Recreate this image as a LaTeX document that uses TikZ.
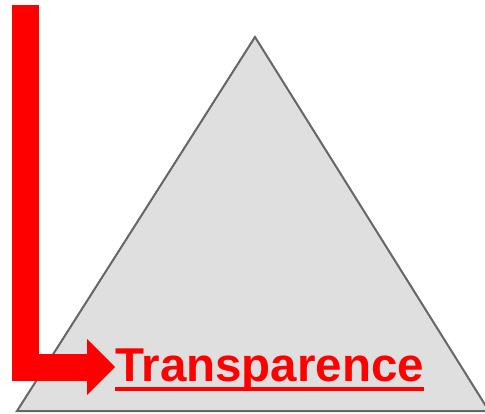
\documentclass[tikz,border=0pt]{standalone}
\usepackage{fontspec}
\setmainfont{Liberation Sans}
\usetikzlibrary{arrows.meta}
\definecolor{pyramidfill}{HTML}{DFDFDF}
\definecolor{pyramidedge}{HTML}{666666}
\definecolor{markred}{HTML}{FF0000}

\begin{document}
\begin{tikzpicture}[x=1pt,y=1pt]
    % Define styles
    \tikzstyle{pyramid} = [fill=pyramidfill, draw=pyramidedge, line width=2pt, line join=miter]
    \tikzstyle{headword} = [inner sep=0pt, text=markred, font=\fontsize{47.5}{50}\selectfont\bfseries]
    \tikzstyle{underbar} = [draw=markred, line width=4pt]
    \tikzstyle{bigarrow} = [color=markred, line width=27pt, -{Triangle[length=28pt, width=56pt, line width=0pt]}]

    \useasboundingbox (0,0) rectangle (485,413);

    % Pyramid
    \coordinate (apex) at (255,376);
    \coordinate (left) at (17,2);
    \coordinate (right) at (489,2);
    \draw[pyramid] (left) -- (apex) -- (right) -- cycle;

    % Label
    \node[headword, anchor=base west] (transp) at (115,32) {Transparence};
    \draw[underbar] ([yshift=-8pt]transp.base west) -- ([yshift=-8pt]transp.base east);

    % Arrow
    \coordinate (start) at (25.5,408);
    \draw[bigarrow] (start) |- ([yshift=14pt]transp.base west);
\end{tikzpicture}
\end{document}
